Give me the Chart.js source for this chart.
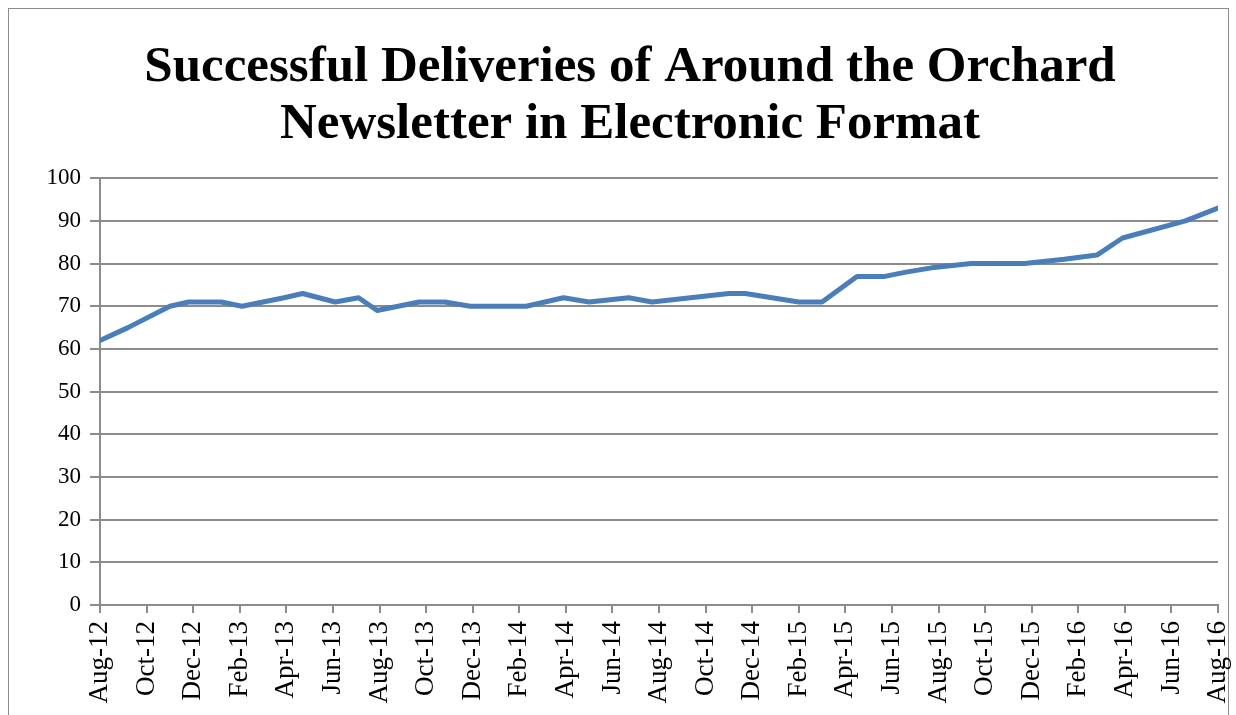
<!DOCTYPE html>
<html>
<head>
<meta charset="utf-8">
<script src="https://cdn.jsdelivr.net/npm/chart.js@4/dist/chart.umd.min.js"></script>
<style>
  html, body { margin: 0; padding: 0; background: #ffffff; }
  #c { display: block; }
</style>
</head>
<body>
<canvas id="c" width="1236" height="715"></canvas>
<script>
// Data
const titleLines = ["Successful Deliveries of Around the Orchard", "Newsletter in Electronic Format"];
// Position of each point in months after Aug-12 (points are not exactly monthly)
const monthOffsets = [0, 1.2, 3.0, 3.8, 5.2, 6.1, 7.9, 8.7, 10.1, 11.1, 11.9, 13.7, 14.8, 15.9, 18.3, 19.9, 21.0, 22.7, 23.7, 27.0, 27.7, 30.0, 31.0, 32.5, 33.7, 34.6, 35.7, 37.4, 39.7, 41.4, 42.8, 43.9, 46.6, 48.0];
const deliveries   = [62, 65, 70, 71, 71, 70, 72, 73, 71, 72, 69, 71, 71, 70, 70, 72, 71, 72, 71, 73, 73, 71, 71, 77, 77, 78, 79, 80, 80, 81, 82, 86, 90, 93];
const xTickLabels = ["Aug-12","Oct-12","Dec-12","Feb-13","Apr-13","Jun-13","Aug-13","Oct-13","Dec-13","Feb-14","Apr-14","Jun-14","Aug-14","Oct-14","Dec-14","Feb-15","Apr-15","Jun-15","Aug-15","Oct-15","Dec-15","Feb-16","Apr-16","Jun-16","Aug-16"];

const points = monthOffsets.map((m, i) => ({ x: m, y: deliveries[i] }));

const GRID = '#8c8c8c';
const FONT = "'Liberation Serif', 'Times New Roman', serif";

const frame = {
  id: 'frame',
  beforeDraw(chart) {
    const ctx = chart.ctx;
    ctx.save();
    ctx.fillStyle = '#ffffff';
    ctx.fillRect(0, 0, chart.width, chart.height);
    ctx.strokeStyle = '#8c8c8c';
    ctx.lineWidth = 1;
    ctx.strokeRect(8.5, 8.5, 1220, 720);
    ctx.restore();
  }
};

new Chart(document.getElementById('c'), {
  type: 'line',
  data: {
    datasets: [{
      data: points,
      borderColor: '#4a7ebb',
      borderWidth: 5,
      pointRadius: 0,
      pointHoverRadius: 0,
      tension: 0,
      borderCapStyle: 'round',
      borderJoinStyle: 'round',
      fill: false
    }]
  },
  options: {
    responsive: false,
    animation: false,
    devicePixelRatio: 1,
    layout: { padding: { left: 42, right: 18, top: 0, bottom: 0 } },
    plugins: {
      legend: { display: false },
      tooltip: { enabled: false },
      title: {
        display: true,
        text: titleLines,
        color: '#000000',
        font: { family: FONT, size: 51, weight: 'bold', lineHeight: 1.12 },
        padding: { top: 39, bottom: 25 }
      }
    },
    scales: {
      x: {
        type: 'linear',
        min: 0,
        max: 48,
        afterFit(scale) { scale.height = 110; scale.paddingLeft = 0; scale.paddingRight = 0; },
        ticks: {
          stepSize: 2,
          autoSkip: false,
          maxRotation: 90,
          minRotation: 90,
          padding: 8,
          color: '#000000',
          font: { family: FONT, size: 27 },
          callback: (v) => xTickLabels[Math.round(v / 2)]
        },
        grid: {
          drawOnChartArea: false,
          drawTicks: true,
          tickLength: 8,
          color: GRID,
          lineWidth: 2
        },
        border: { display: true, color: GRID, width: 2 }
      },
      y: {
        min: 0,
        max: 100,
        afterFit(scale) { scale.width = 58; },
        ticks: {
          stepSize: 10,
          padding: 9,
          color: '#000000',
          font: { family: FONT, size: 23 }
        },
        grid: {
          color: GRID,
          lineWidth: 2,
          tickLength: 10
        },
        border: { display: true, color: GRID, width: 2 }
      }
    }
  },
  plugins: [frame]
});
</script>
</body>
</html>
